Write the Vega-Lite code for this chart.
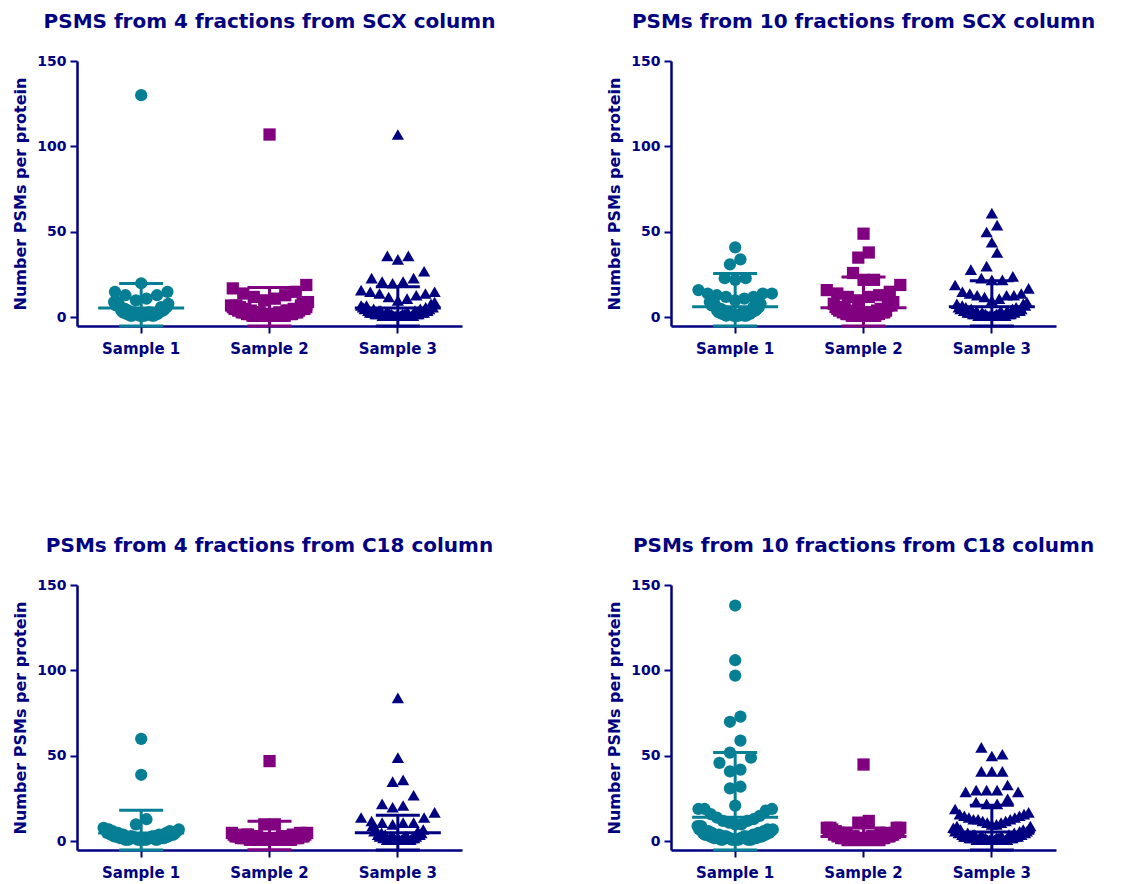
{
"$schema": "https://vega.github.io/schema/vega-lite/v6.json",
"background": "white",
"padding": {"left": 12, "top": 12, "right": 5, "bottom": 5},
"datasets": {"panels": [
{"g":1,"title":"PSMS from 4 fractions from SCX column"},
{"g":2,"title":"PSMs from 10 fractions from SCX column"},
{"g":3,"title":"PSMs from 4 fractions from C18 column"},
{"g":4,"title":"PSMs from 10 fractions from C18 column"}
]},
"data": {"values": [
{"g":1,"s":"Sample 1","mean":5.6,"lo":-8.7,"hi":19.9},
{"g":1,"s":"Sample 2","mean":4.8,"lo":-7.9,"hi":17.5},
{"g":1,"s":"Sample 3","mean":5.6,"lo":-6.7,"hi":17.9},
{"g":2,"s":"Sample 1","mean":6.3,"lo":-13.1,"hi":25.7},
{"g":2,"s":"Sample 2","mean":5.7,"lo":-12.3,"hi":23.7},
{"g":2,"s":"Sample 3","mean":6.3,"lo":-8.8,"hi":21.4},
{"g":3,"s":"Sample 1","mean":4.9,"lo":-8.4,"hi":18.2},
{"g":3,"s":"Sample 2","mean":3.5,"lo":-4.8,"hi":11.8},
{"g":3,"s":"Sample 3","mean":5.1,"lo":-5.1,"hi":15.3},
{"g":4,"s":"Sample 1","mean":14.1,"lo":-23.8,"hi":52},
{"g":4,"s":"Sample 2","mean":2.9,"lo":-2,"hi":7.8},
{"g":4,"s":"Sample 3","mean":5.5,"lo":-10.2,"hi":21.2},

{"g":1,"s":"Sample 1","v":130},{"g":1,"s":"Sample 1","v":20},{"g":1,"s":"Sample 1","v":15},{"g":1,"s":"Sample 1","v":13},{"g":1,"s":"Sample 1","v":11},{"g":1,"s":"Sample 1","v":13},{"g":1,"s":"Sample 1","v":15},{"g":1,"s":"Sample 1","v":9},{"g":1,"s":"Sample 1","v":9},{"g":1,"s":"Sample 1","v":8},{"g":1,"s":"Sample 1","v":10},
{"g":1,"s":"Sample 1","v":1},{"g":1,"s":"Sample 1","v":1},{"g":1,"s":"Sample 1","v":1},{"g":1,"s":"Sample 1","v":1},{"g":1,"s":"Sample 1","v":1},{"g":1,"s":"Sample 1","v":1},{"g":1,"s":"Sample 1","v":1},{"g":1,"s":"Sample 1","v":1},
{"g":1,"s":"Sample 1","v":2},{"g":1,"s":"Sample 1","v":2},{"g":1,"s":"Sample 1","v":2},{"g":1,"s":"Sample 1","v":2},{"g":1,"s":"Sample 1","v":2},{"g":1,"s":"Sample 1","v":2},
{"g":1,"s":"Sample 1","v":3},{"g":1,"s":"Sample 1","v":3},{"g":1,"s":"Sample 1","v":3},{"g":1,"s":"Sample 1","v":3},{"g":1,"s":"Sample 1","v":3},
{"g":1,"s":"Sample 1","v":4},{"g":1,"s":"Sample 1","v":4},{"g":1,"s":"Sample 1","v":4},
{"g":1,"s":"Sample 1","v":5},{"g":1,"s":"Sample 1","v":5},
{"g":1,"s":"Sample 1","v":6},{"g":1,"s":"Sample 1","v":6},
{"g":1,"s":"Sample 1","v":7},{"g":1,"s":"Sample 1","v":7},

{"g":1,"s":"Sample 2","v":107},{"g":1,"s":"Sample 2","v":19},{"g":1,"s":"Sample 2","v":15},{"g":1,"s":"Sample 2","v":13},{"g":1,"s":"Sample 2","v":12},{"g":1,"s":"Sample 2","v":14},{"g":1,"s":"Sample 2","v":17},{"g":1,"s":"Sample 2","v":9},{"g":1,"s":"Sample 2","v":10},{"g":1,"s":"Sample 2","v":11},{"g":1,"s":"Sample 2","v":8},
{"g":1,"s":"Sample 2","v":1},{"g":1,"s":"Sample 2","v":1},{"g":1,"s":"Sample 2","v":1},{"g":1,"s":"Sample 2","v":1},{"g":1,"s":"Sample 2","v":1},{"g":1,"s":"Sample 2","v":1},{"g":1,"s":"Sample 2","v":1},{"g":1,"s":"Sample 2","v":1},{"g":1,"s":"Sample 2","v":1},{"g":1,"s":"Sample 2","v":1},{"g":1,"s":"Sample 2","v":1},
{"g":1,"s":"Sample 2","v":2},{"g":1,"s":"Sample 2","v":2},{"g":1,"s":"Sample 2","v":2},{"g":1,"s":"Sample 2","v":2},{"g":1,"s":"Sample 2","v":2},{"g":1,"s":"Sample 2","v":2},{"g":1,"s":"Sample 2","v":2},{"g":1,"s":"Sample 2","v":2},{"g":1,"s":"Sample 2","v":2},
{"g":1,"s":"Sample 2","v":3},{"g":1,"s":"Sample 2","v":3},{"g":1,"s":"Sample 2","v":3},{"g":1,"s":"Sample 2","v":3},{"g":1,"s":"Sample 2","v":3},{"g":1,"s":"Sample 2","v":3},{"g":1,"s":"Sample 2","v":3},
{"g":1,"s":"Sample 2","v":4},{"g":1,"s":"Sample 2","v":4},{"g":1,"s":"Sample 2","v":4},{"g":1,"s":"Sample 2","v":4},{"g":1,"s":"Sample 2","v":4},
{"g":1,"s":"Sample 2","v":5},{"g":1,"s":"Sample 2","v":5},{"g":1,"s":"Sample 2","v":5},{"g":1,"s":"Sample 2","v":5},
{"g":1,"s":"Sample 2","v":6},{"g":1,"s":"Sample 2","v":6},{"g":1,"s":"Sample 2","v":6},
{"g":1,"s":"Sample 2","v":7},{"g":1,"s":"Sample 2","v":7},{"g":1,"s":"Sample 2","v":7},

{"g":1,"s":"Sample 3","v":107},{"g":1,"s":"Sample 3","v":36},{"g":1,"s":"Sample 3","v":34},{"g":1,"s":"Sample 3","v":36},{"g":1,"s":"Sample 3","v":27},{"g":1,"s":"Sample 3","v":23},{"g":1,"s":"Sample 3","v":21},{"g":1,"s":"Sample 3","v":20},{"g":1,"s":"Sample 3","v":21},{"g":1,"s":"Sample 3","v":23},
{"g":1,"s":"Sample 3","v":16},{"g":1,"s":"Sample 3","v":15},{"g":1,"s":"Sample 3","v":14},{"g":1,"s":"Sample 3","v":13},{"g":1,"s":"Sample 3","v":11},{"g":1,"s":"Sample 3","v":12},{"g":1,"s":"Sample 3","v":14},{"g":1,"s":"Sample 3","v":15},{"g":1,"s":"Sample 3","v":10},{"g":1,"s":"Sample 3","v":9},
{"g":1,"s":"Sample 3","v":1},{"g":1,"s":"Sample 3","v":1},{"g":1,"s":"Sample 3","v":1},{"g":1,"s":"Sample 3","v":1},{"g":1,"s":"Sample 3","v":1},{"g":1,"s":"Sample 3","v":1},{"g":1,"s":"Sample 3","v":1},{"g":1,"s":"Sample 3","v":1},{"g":1,"s":"Sample 3","v":1},{"g":1,"s":"Sample 3","v":1},
{"g":1,"s":"Sample 3","v":2},{"g":1,"s":"Sample 3","v":2},{"g":1,"s":"Sample 3","v":2},{"g":1,"s":"Sample 3","v":2},{"g":1,"s":"Sample 3","v":2},{"g":1,"s":"Sample 3","v":2},{"g":1,"s":"Sample 3","v":2},{"g":1,"s":"Sample 3","v":2},{"g":1,"s":"Sample 3","v":2},
{"g":1,"s":"Sample 3","v":3},{"g":1,"s":"Sample 3","v":3},{"g":1,"s":"Sample 3","v":3},{"g":1,"s":"Sample 3","v":3},{"g":1,"s":"Sample 3","v":3},{"g":1,"s":"Sample 3","v":3},{"g":1,"s":"Sample 3","v":3},
{"g":1,"s":"Sample 3","v":4},{"g":1,"s":"Sample 3","v":4},{"g":1,"s":"Sample 3","v":4},{"g":1,"s":"Sample 3","v":4},{"g":1,"s":"Sample 3","v":4},
{"g":1,"s":"Sample 3","v":5},{"g":1,"s":"Sample 3","v":5},{"g":1,"s":"Sample 3","v":5},{"g":1,"s":"Sample 3","v":5},
{"g":1,"s":"Sample 3","v":6},{"g":1,"s":"Sample 3","v":6},{"g":1,"s":"Sample 3","v":6},
{"g":1,"s":"Sample 3","v":7},{"g":1,"s":"Sample 3","v":7},
{"g":1,"s":"Sample 3","v":8},

{"g":2,"s":"Sample 1","v":41},{"g":2,"s":"Sample 1","v":34},{"g":2,"s":"Sample 1","v":31},{"g":2,"s":"Sample 1","v":23},{"g":2,"s":"Sample 1","v":22},{"g":2,"s":"Sample 1","v":23},{"g":2,"s":"Sample 1","v":16},{"g":2,"s":"Sample 1","v":14},{"g":2,"s":"Sample 1","v":12},
{"g":2,"s":"Sample 1","v":11},{"g":2,"s":"Sample 1","v":12},{"g":2,"s":"Sample 1","v":13},{"g":2,"s":"Sample 1","v":14},{"g":2,"s":"Sample 1","v":14},{"g":2,"s":"Sample 1","v":9},{"g":2,"s":"Sample 1","v":9},{"g":2,"s":"Sample 1","v":10},{"g":2,"s":"Sample 1","v":8},
{"g":2,"s":"Sample 1","v":1},{"g":2,"s":"Sample 1","v":1},{"g":2,"s":"Sample 1","v":1},{"g":2,"s":"Sample 1","v":1},{"g":2,"s":"Sample 1","v":1},{"g":2,"s":"Sample 1","v":1},{"g":2,"s":"Sample 1","v":1},
{"g":2,"s":"Sample 1","v":2},{"g":2,"s":"Sample 1","v":2},{"g":2,"s":"Sample 1","v":2},{"g":2,"s":"Sample 1","v":2},{"g":2,"s":"Sample 1","v":2},{"g":2,"s":"Sample 1","v":2},
{"g":2,"s":"Sample 1","v":3},{"g":2,"s":"Sample 1","v":3},{"g":2,"s":"Sample 1","v":3},{"g":2,"s":"Sample 1","v":3},
{"g":2,"s":"Sample 1","v":4},{"g":2,"s":"Sample 1","v":4},{"g":2,"s":"Sample 1","v":4},
{"g":2,"s":"Sample 1","v":5},{"g":2,"s":"Sample 1","v":5},
{"g":2,"s":"Sample 1","v":6},{"g":2,"s":"Sample 1","v":6},
{"g":2,"s":"Sample 1","v":7},{"g":2,"s":"Sample 1","v":7},

{"g":2,"s":"Sample 2","v":49},{"g":2,"s":"Sample 2","v":38},{"g":2,"s":"Sample 2","v":35},{"g":2,"s":"Sample 2","v":26},{"g":2,"s":"Sample 2","v":22},{"g":2,"s":"Sample 2","v":22},{"g":2,"s":"Sample 2","v":19},{"g":2,"s":"Sample 2","v":15},
{"g":2,"s":"Sample 2","v":13},{"g":2,"s":"Sample 2","v":14},{"g":2,"s":"Sample 2","v":16},{"g":2,"s":"Sample 2","v":12},{"g":2,"s":"Sample 2","v":12},{"g":2,"s":"Sample 2","v":10},{"g":2,"s":"Sample 2","v":9},
{"g":2,"s":"Sample 2","v":1},{"g":2,"s":"Sample 2","v":1},{"g":2,"s":"Sample 2","v":1},{"g":2,"s":"Sample 2","v":1},{"g":2,"s":"Sample 2","v":1},{"g":2,"s":"Sample 2","v":1},{"g":2,"s":"Sample 2","v":1},{"g":2,"s":"Sample 2","v":1},
{"g":2,"s":"Sample 2","v":2},{"g":2,"s":"Sample 2","v":2},{"g":2,"s":"Sample 2","v":2},{"g":2,"s":"Sample 2","v":2},{"g":2,"s":"Sample 2","v":2},{"g":2,"s":"Sample 2","v":2},{"g":2,"s":"Sample 2","v":2},
{"g":2,"s":"Sample 2","v":3},{"g":2,"s":"Sample 2","v":3},{"g":2,"s":"Sample 2","v":3},{"g":2,"s":"Sample 2","v":3},{"g":2,"s":"Sample 2","v":3},
{"g":2,"s":"Sample 2","v":4},{"g":2,"s":"Sample 2","v":4},{"g":2,"s":"Sample 2","v":4},{"g":2,"s":"Sample 2","v":4},
{"g":2,"s":"Sample 2","v":5},{"g":2,"s":"Sample 2","v":5},{"g":2,"s":"Sample 2","v":5},
{"g":2,"s":"Sample 2","v":6},{"g":2,"s":"Sample 2","v":6},
{"g":2,"s":"Sample 2","v":7},{"g":2,"s":"Sample 2","v":7},
{"g":2,"s":"Sample 2","v":8},{"g":2,"s":"Sample 2","v":8},

{"g":2,"s":"Sample 3","v":61},{"g":2,"s":"Sample 3","v":54},{"g":2,"s":"Sample 3","v":50},{"g":2,"s":"Sample 3","v":44},{"g":2,"s":"Sample 3","v":38},{"g":2,"s":"Sample 3","v":28},{"g":2,"s":"Sample 3","v":30},{"g":2,"s":"Sample 3","v":23},
{"g":2,"s":"Sample 3","v":22},{"g":2,"s":"Sample 3","v":22},{"g":2,"s":"Sample 3","v":24},{"g":2,"s":"Sample 3","v":17},{"g":2,"s":"Sample 3","v":19},{"g":2,"s":"Sample 3","v":14},{"g":2,"s":"Sample 3","v":13},{"g":2,"s":"Sample 3","v":13},
{"g":2,"s":"Sample 3","v":12},{"g":2,"s":"Sample 3","v":13},{"g":2,"s":"Sample 3","v":14},{"g":2,"s":"Sample 3","v":15},{"g":2,"s":"Sample 3","v":10},{"g":2,"s":"Sample 3","v":9},{"g":2,"s":"Sample 3","v":11},
{"g":2,"s":"Sample 3","v":1},{"g":2,"s":"Sample 3","v":1},{"g":2,"s":"Sample 3","v":1},{"g":2,"s":"Sample 3","v":1},{"g":2,"s":"Sample 3","v":1},{"g":2,"s":"Sample 3","v":1},{"g":2,"s":"Sample 3","v":1},{"g":2,"s":"Sample 3","v":1},{"g":2,"s":"Sample 3","v":1},
{"g":2,"s":"Sample 3","v":2},{"g":2,"s":"Sample 3","v":2},{"g":2,"s":"Sample 3","v":2},{"g":2,"s":"Sample 3","v":2},{"g":2,"s":"Sample 3","v":2},{"g":2,"s":"Sample 3","v":2},{"g":2,"s":"Sample 3","v":2},{"g":2,"s":"Sample 3","v":2},
{"g":2,"s":"Sample 3","v":3},{"g":2,"s":"Sample 3","v":3},{"g":2,"s":"Sample 3","v":3},{"g":2,"s":"Sample 3","v":3},{"g":2,"s":"Sample 3","v":3},{"g":2,"s":"Sample 3","v":3},
{"g":2,"s":"Sample 3","v":4},{"g":2,"s":"Sample 3","v":4},{"g":2,"s":"Sample 3","v":4},{"g":2,"s":"Sample 3","v":4},{"g":2,"s":"Sample 3","v":4},
{"g":2,"s":"Sample 3","v":5},{"g":2,"s":"Sample 3","v":5},{"g":2,"s":"Sample 3","v":5},{"g":2,"s":"Sample 3","v":5},
{"g":2,"s":"Sample 3","v":6},{"g":2,"s":"Sample 3","v":6},{"g":2,"s":"Sample 3","v":6},
{"g":2,"s":"Sample 3","v":7},{"g":2,"s":"Sample 3","v":7},
{"g":2,"s":"Sample 3","v":8},{"g":2,"s":"Sample 3","v":8},

{"g":3,"s":"Sample 1","v":60},{"g":3,"s":"Sample 1","v":39},{"g":3,"s":"Sample 1","v":13},{"g":3,"s":"Sample 1","v":8},{"g":3,"s":"Sample 1","v":10},
{"g":3,"s":"Sample 1","v":1},{"g":3,"s":"Sample 1","v":1},{"g":3,"s":"Sample 1","v":1},{"g":3,"s":"Sample 1","v":1},{"g":3,"s":"Sample 1","v":1},{"g":3,"s":"Sample 1","v":1},{"g":3,"s":"Sample 1","v":1},{"g":3,"s":"Sample 1","v":1},{"g":3,"s":"Sample 1","v":1},{"g":3,"s":"Sample 1","v":1},{"g":3,"s":"Sample 1","v":1},
{"g":3,"s":"Sample 1","v":2},{"g":3,"s":"Sample 1","v":2},{"g":3,"s":"Sample 1","v":2},{"g":3,"s":"Sample 1","v":2},{"g":3,"s":"Sample 1","v":2},{"g":3,"s":"Sample 1","v":2},{"g":3,"s":"Sample 1","v":2},{"g":3,"s":"Sample 1","v":2},{"g":3,"s":"Sample 1","v":2},
{"g":3,"s":"Sample 1","v":3},{"g":3,"s":"Sample 1","v":3},{"g":3,"s":"Sample 1","v":3},{"g":3,"s":"Sample 1","v":3},{"g":3,"s":"Sample 1","v":3},{"g":3,"s":"Sample 1","v":3},{"g":3,"s":"Sample 1","v":3},
{"g":3,"s":"Sample 1","v":4},{"g":3,"s":"Sample 1","v":4},{"g":3,"s":"Sample 1","v":4},{"g":3,"s":"Sample 1","v":4},{"g":3,"s":"Sample 1","v":4},
{"g":3,"s":"Sample 1","v":5},{"g":3,"s":"Sample 1","v":5},{"g":3,"s":"Sample 1","v":5},{"g":3,"s":"Sample 1","v":5},
{"g":3,"s":"Sample 1","v":6},{"g":3,"s":"Sample 1","v":6},{"g":3,"s":"Sample 1","v":6},
{"g":3,"s":"Sample 1","v":7},{"g":3,"s":"Sample 1","v":7},{"g":3,"s":"Sample 1","v":7},

{"g":3,"s":"Sample 2","v":47},{"g":3,"s":"Sample 2","v":10},{"g":3,"s":"Sample 2","v":10},
{"g":3,"s":"Sample 2","v":1},{"g":3,"s":"Sample 2","v":1},{"g":3,"s":"Sample 2","v":1},{"g":3,"s":"Sample 2","v":1},{"g":3,"s":"Sample 2","v":1},{"g":3,"s":"Sample 2","v":1},{"g":3,"s":"Sample 2","v":1},{"g":3,"s":"Sample 2","v":1},{"g":3,"s":"Sample 2","v":1},{"g":3,"s":"Sample 2","v":1},{"g":3,"s":"Sample 2","v":1},{"g":3,"s":"Sample 2","v":1},{"g":3,"s":"Sample 2","v":1},{"g":3,"s":"Sample 2","v":1},
{"g":3,"s":"Sample 2","v":2},{"g":3,"s":"Sample 2","v":2},{"g":3,"s":"Sample 2","v":2},{"g":3,"s":"Sample 2","v":2},{"g":3,"s":"Sample 2","v":2},{"g":3,"s":"Sample 2","v":2},{"g":3,"s":"Sample 2","v":2},{"g":3,"s":"Sample 2","v":2},{"g":3,"s":"Sample 2","v":2},{"g":3,"s":"Sample 2","v":2},{"g":3,"s":"Sample 2","v":2},{"g":3,"s":"Sample 2","v":2},
{"g":3,"s":"Sample 2","v":3},{"g":3,"s":"Sample 2","v":3},{"g":3,"s":"Sample 2","v":3},{"g":3,"s":"Sample 2","v":3},{"g":3,"s":"Sample 2","v":3},{"g":3,"s":"Sample 2","v":3},{"g":3,"s":"Sample 2","v":3},{"g":3,"s":"Sample 2","v":3},{"g":3,"s":"Sample 2","v":3},
{"g":3,"s":"Sample 2","v":4},{"g":3,"s":"Sample 2","v":4},{"g":3,"s":"Sample 2","v":4},{"g":3,"s":"Sample 2","v":4},{"g":3,"s":"Sample 2","v":4},
{"g":3,"s":"Sample 2","v":5},{"g":3,"s":"Sample 2","v":5},{"g":3,"s":"Sample 2","v":5},

{"g":3,"s":"Sample 3","v":84},{"g":3,"s":"Sample 3","v":49},{"g":3,"s":"Sample 3","v":36},{"g":3,"s":"Sample 3","v":35},{"g":3,"s":"Sample 3","v":27},{"g":3,"s":"Sample 3","v":20},{"g":3,"s":"Sample 3","v":21},{"g":3,"s":"Sample 3","v":22},{"g":3,"s":"Sample 3","v":17},
{"g":3,"s":"Sample 3","v":14},{"g":3,"s":"Sample 3","v":11},{"g":3,"s":"Sample 3","v":11},{"g":3,"s":"Sample 3","v":11},{"g":3,"s":"Sample 3","v":12},{"g":3,"s":"Sample 3","v":14},{"g":3,"s":"Sample 3","v":9},{"g":3,"s":"Sample 3","v":10},
{"g":3,"s":"Sample 3","v":1},{"g":3,"s":"Sample 3","v":1},{"g":3,"s":"Sample 3","v":1},{"g":3,"s":"Sample 3","v":1},{"g":3,"s":"Sample 3","v":1},{"g":3,"s":"Sample 3","v":1},{"g":3,"s":"Sample 3","v":1},{"g":3,"s":"Sample 3","v":1},
{"g":3,"s":"Sample 3","v":2},{"g":3,"s":"Sample 3","v":2},{"g":3,"s":"Sample 3","v":2},{"g":3,"s":"Sample 3","v":2},{"g":3,"s":"Sample 3","v":2},{"g":3,"s":"Sample 3","v":2},
{"g":3,"s":"Sample 3","v":3},{"g":3,"s":"Sample 3","v":3},{"g":3,"s":"Sample 3","v":3},{"g":3,"s":"Sample 3","v":3},{"g":3,"s":"Sample 3","v":3},
{"g":3,"s":"Sample 3","v":4},{"g":3,"s":"Sample 3","v":4},{"g":3,"s":"Sample 3","v":4},
{"g":3,"s":"Sample 3","v":5},{"g":3,"s":"Sample 3","v":5},
{"g":3,"s":"Sample 3","v":6},{"g":3,"s":"Sample 3","v":6},
{"g":3,"s":"Sample 3","v":7},{"g":3,"s":"Sample 3","v":7},

{"g":4,"s":"Sample 1","v":138},{"g":4,"s":"Sample 1","v":106},{"g":4,"s":"Sample 1","v":97},{"g":4,"s":"Sample 1","v":73},{"g":4,"s":"Sample 1","v":70},{"g":4,"s":"Sample 1","v":59},{"g":4,"s":"Sample 1","v":52},{"g":4,"s":"Sample 1","v":49},{"g":4,"s":"Sample 1","v":46},{"g":4,"s":"Sample 1","v":42},
{"g":4,"s":"Sample 1","v":41},{"g":4,"s":"Sample 1","v":31},{"g":4,"s":"Sample 1","v":32},{"g":4,"s":"Sample 1","v":21},{"g":4,"s":"Sample 1","v":19},{"g":4,"s":"Sample 1","v":19},{"g":4,"s":"Sample 1","v":19},{"g":4,"s":"Sample 1","v":18},{"g":4,"s":"Sample 1","v":16},{"g":4,"s":"Sample 1","v":15},
{"g":4,"s":"Sample 1","v":14},{"g":4,"s":"Sample 1","v":13},{"g":4,"s":"Sample 1","v":12},{"g":4,"s":"Sample 1","v":12},{"g":4,"s":"Sample 1","v":11},{"g":4,"s":"Sample 1","v":10},{"g":4,"s":"Sample 1","v":10},{"g":4,"s":"Sample 1","v":9},{"g":4,"s":"Sample 1","v":9},
{"g":4,"s":"Sample 1","v":1},{"g":4,"s":"Sample 1","v":1},{"g":4,"s":"Sample 1","v":1},{"g":4,"s":"Sample 1","v":1},{"g":4,"s":"Sample 1","v":1},{"g":4,"s":"Sample 1","v":1},{"g":4,"s":"Sample 1","v":1},{"g":4,"s":"Sample 1","v":1},{"g":4,"s":"Sample 1","v":1},{"g":4,"s":"Sample 1","v":1},
{"g":4,"s":"Sample 1","v":2},{"g":4,"s":"Sample 1","v":2},{"g":4,"s":"Sample 1","v":2},{"g":4,"s":"Sample 1","v":2},{"g":4,"s":"Sample 1","v":2},{"g":4,"s":"Sample 1","v":2},{"g":4,"s":"Sample 1","v":2},{"g":4,"s":"Sample 1","v":2},{"g":4,"s":"Sample 1","v":2},
{"g":4,"s":"Sample 1","v":3},{"g":4,"s":"Sample 1","v":3},{"g":4,"s":"Sample 1","v":3},{"g":4,"s":"Sample 1","v":3},{"g":4,"s":"Sample 1","v":3},{"g":4,"s":"Sample 1","v":3},{"g":4,"s":"Sample 1","v":3},
{"g":4,"s":"Sample 1","v":4},{"g":4,"s":"Sample 1","v":4},{"g":4,"s":"Sample 1","v":4},{"g":4,"s":"Sample 1","v":4},{"g":4,"s":"Sample 1","v":4},
{"g":4,"s":"Sample 1","v":5},{"g":4,"s":"Sample 1","v":5},{"g":4,"s":"Sample 1","v":5},{"g":4,"s":"Sample 1","v":5},
{"g":4,"s":"Sample 1","v":6},{"g":4,"s":"Sample 1","v":6},{"g":4,"s":"Sample 1","v":6},
{"g":4,"s":"Sample 1","v":7},{"g":4,"s":"Sample 1","v":7},{"g":4,"s":"Sample 1","v":7},

{"g":4,"s":"Sample 2","v":45},{"g":4,"s":"Sample 2","v":12},{"g":4,"s":"Sample 2","v":11},
{"g":4,"s":"Sample 2","v":1},{"g":4,"s":"Sample 2","v":1},{"g":4,"s":"Sample 2","v":1},{"g":4,"s":"Sample 2","v":1},{"g":4,"s":"Sample 2","v":1},{"g":4,"s":"Sample 2","v":1},{"g":4,"s":"Sample 2","v":1},{"g":4,"s":"Sample 2","v":1},{"g":4,"s":"Sample 2","v":1},{"g":4,"s":"Sample 2","v":1},
{"g":4,"s":"Sample 2","v":2},{"g":4,"s":"Sample 2","v":2},{"g":4,"s":"Sample 2","v":2},{"g":4,"s":"Sample 2","v":2},{"g":4,"s":"Sample 2","v":2},{"g":4,"s":"Sample 2","v":2},{"g":4,"s":"Sample 2","v":2},{"g":4,"s":"Sample 2","v":2},{"g":4,"s":"Sample 2","v":2},
{"g":4,"s":"Sample 2","v":3},{"g":4,"s":"Sample 2","v":3},{"g":4,"s":"Sample 2","v":3},{"g":4,"s":"Sample 2","v":3},{"g":4,"s":"Sample 2","v":3},{"g":4,"s":"Sample 2","v":3},{"g":4,"s":"Sample 2","v":3},
{"g":4,"s":"Sample 2","v":4},{"g":4,"s":"Sample 2","v":4},{"g":4,"s":"Sample 2","v":4},{"g":4,"s":"Sample 2","v":4},{"g":4,"s":"Sample 2","v":4},
{"g":4,"s":"Sample 2","v":5},{"g":4,"s":"Sample 2","v":5},{"g":4,"s":"Sample 2","v":5},
{"g":4,"s":"Sample 2","v":6},{"g":4,"s":"Sample 2","v":6},
{"g":4,"s":"Sample 2","v":7},{"g":4,"s":"Sample 2","v":7},
{"g":4,"s":"Sample 2","v":8},{"g":4,"s":"Sample 2","v":8},{"g":4,"s":"Sample 2","v":8},{"g":4,"s":"Sample 2","v":8},

{"g":4,"s":"Sample 3","v":55},{"g":4,"s":"Sample 3","v":50},{"g":4,"s":"Sample 3","v":51},{"g":4,"s":"Sample 3","v":41},{"g":4,"s":"Sample 3","v":41},{"g":4,"s":"Sample 3","v":41},{"g":4,"s":"Sample 3","v":33},{"g":4,"s":"Sample 3","v":30},{"g":4,"s":"Sample 3","v":30},
{"g":4,"s":"Sample 3","v":29},{"g":4,"s":"Sample 3","v":29},{"g":4,"s":"Sample 3","v":30},{"g":4,"s":"Sample 3","v":25},{"g":4,"s":"Sample 3","v":23},{"g":4,"s":"Sample 3","v":22},{"g":4,"s":"Sample 3","v":22},{"g":4,"s":"Sample 3","v":19},{"g":4,"s":"Sample 3","v":16},
{"g":4,"s":"Sample 3","v":15},{"g":4,"s":"Sample 3","v":14},{"g":4,"s":"Sample 3","v":13},{"g":4,"s":"Sample 3","v":13},{"g":4,"s":"Sample 3","v":14},{"g":4,"s":"Sample 3","v":15},{"g":4,"s":"Sample 3","v":16},{"g":4,"s":"Sample 3","v":17},{"g":4,"s":"Sample 3","v":12},
{"g":4,"s":"Sample 3","v":11},{"g":4,"s":"Sample 3","v":11},{"g":4,"s":"Sample 3","v":10},{"g":4,"s":"Sample 3","v":10},{"g":4,"s":"Sample 3","v":9},{"g":4,"s":"Sample 3","v":9},{"g":4,"s":"Sample 3","v":8},{"g":4,"s":"Sample 3","v":12},{"g":4,"s":"Sample 3","v":13},
{"g":4,"s":"Sample 3","v":1},{"g":4,"s":"Sample 3","v":1},{"g":4,"s":"Sample 3","v":1},{"g":4,"s":"Sample 3","v":1},{"g":4,"s":"Sample 3","v":1},{"g":4,"s":"Sample 3","v":1},{"g":4,"s":"Sample 3","v":1},{"g":4,"s":"Sample 3","v":1},{"g":4,"s":"Sample 3","v":1},{"g":4,"s":"Sample 3","v":1},
{"g":4,"s":"Sample 3","v":2},{"g":4,"s":"Sample 3","v":2},{"g":4,"s":"Sample 3","v":2},{"g":4,"s":"Sample 3","v":2},{"g":4,"s":"Sample 3","v":2},{"g":4,"s":"Sample 3","v":2},{"g":4,"s":"Sample 3","v":2},{"g":4,"s":"Sample 3","v":2},{"g":4,"s":"Sample 3","v":2},
{"g":4,"s":"Sample 3","v":3},{"g":4,"s":"Sample 3","v":3},{"g":4,"s":"Sample 3","v":3},{"g":4,"s":"Sample 3","v":3},{"g":4,"s":"Sample 3","v":3},{"g":4,"s":"Sample 3","v":3},{"g":4,"s":"Sample 3","v":3},
{"g":4,"s":"Sample 3","v":4},{"g":4,"s":"Sample 3","v":4},{"g":4,"s":"Sample 3","v":4},{"g":4,"s":"Sample 3","v":4},{"g":4,"s":"Sample 3","v":4},
{"g":4,"s":"Sample 3","v":5},{"g":4,"s":"Sample 3","v":5},{"g":4,"s":"Sample 3","v":5},{"g":4,"s":"Sample 3","v":5},
{"g":4,"s":"Sample 3","v":6},{"g":4,"s":"Sample 3","v":6},{"g":4,"s":"Sample 3","v":6},
{"g":4,"s":"Sample 3","v":7},{"g":4,"s":"Sample 3","v":7},{"g":4,"s":"Sample 3","v":7}
]},
"transform": [{"lookup": "g", "from": {"data": {"name": "panels"}, "key": "g", "fields": ["title"]}}],
"facet": {"field": "title", "type": "nominal", "header": {"title": null}, "sort": ["PSMS from 4 fractions from SCX column", "PSMs from 10 fractions from SCX column", "PSMs from 4 fractions from C18 column", "PSMs from 10 fractions from C18 column"]},
"columns": 2,
"spacing": {"column": 104, "row": 180},
"resolve": {"axis": {"x": "independent", "y": "independent"}},
"spec": {
  "width": 385,
  "height": 265,
  "layer": [
    {
      "transform": [
        {"filter": "isValid(datum.v)"},
        {"bin": {"step": 10, "extent": [0, 160]}, "field": "v", "as": "b"},
        {"joinaggregate": [{"op": "count", "as": "n"}], "groupby": ["g", "s", "b"]},
        {"window": [{"op": "row_number", "as": "i"}], "groupby": ["g", "s", "b"]},
        {"calculate": "datum.v + (datum.b == 0 ? 3 * (datum.i % 2) : 0)", "as": "k"},
        {"window": [{"op": "row_number", "as": "r"}], "sort": [{"field": "k", "order": "ascending"}], "groupby": ["g", "s", "b"]},
        {"calculate": "(datum.r % 2 == 1 ? -(datum.r - 1) / 2 : datum.r / 2) - (datum.n % 2 == 0 ? 0.5 : 0)", "as": "p"},
        {"calculate": "datum.b == 0 ? min(8, datum.n / 6) : 7", "as": "w"},
        {"calculate": "datum.p * min(1, datum.w / max(datum.n - 1, 1))", "as": "off"}
      ],
      "mark": {"type": "point", "filled": true, "opacity": 1, "strokeWidth": 0, "size": 150},
      "encoding": {
        "x": {"field": "s", "type": "nominal", "title": null, "scale": {"domain": ["Sample 1", "Sample 2", "Sample 3"], "paddingInner": 0, "paddingOuter": 0}},
        "xOffset": {"field": "off", "type": "quantitative", "scale": {"domain": [-4, 4], "range": [22.2, 106.2]}},
        "y": {"field": "v", "type": "quantitative", "title": "Number PSMs per protein", "scale": {"domain": [-5, 150], "nice": false, "zero": false, "clamp": true}, "axis": {"values": [0, 50, 100, 150]}},
        "color": {"field": "s", "type": "nominal", "scale": {"domain": ["Sample 1", "Sample 2", "Sample 3"], "range": ["#067E94", "#800080", "#000080"]}, "legend": null},
        "shape": {"field": "s", "type": "nominal", "scale": {"domain": ["Sample 1", "Sample 2", "Sample 3"], "range": ["circle", "square", "triangle-up"]}, "legend": null}
      }
    },
    {
      "transform": [{"filter": "isValid(datum.mean)"}],
      "mark": {"type": "rule", "strokeWidth": 3, "opacity": 1},
      "encoding": {
        "x": {"field": "s", "type": "nominal", "title": null},
        "y": {"field": "lo", "type": "quantitative", "title": "Number PSMs per protein"},
        "y2": {"field": "hi"},
        "color": {"field": "s", "type": "nominal", "legend": null}
      }
    },
    {
      "transform": [{"filter": "isValid(datum.mean)"}],
      "mark": {"type": "tick", "size": 86, "thickness": 3, "opacity": 1},
      "encoding": {
        "x": {"field": "s", "type": "nominal", "title": null},
        "y": {"field": "mean", "type": "quantitative", "title": "Number PSMs per protein"},
        "color": {"field": "s", "type": "nominal", "legend": null}
      }
    },
    {
      "transform": [{"filter": "isValid(datum.mean)"}],
      "mark": {"type": "tick", "size": 44, "thickness": 3, "opacity": 1},
      "encoding": {
        "x": {"field": "s", "type": "nominal", "title": null},
        "y": {"field": "hi", "type": "quantitative", "title": "Number PSMs per protein"},
        "color": {"field": "s", "type": "nominal", "legend": null}
      }
    },
    {
      "transform": [{"filter": "isValid(datum.mean)"}],
      "mark": {"type": "tick", "size": 44, "thickness": 3, "opacity": 1},
      "encoding": {
        "x": {"field": "s", "type": "nominal", "title": null},
        "y": {"field": "lo", "type": "quantitative", "title": "Number PSMs per protein"},
        "color": {"field": "s", "type": "nominal", "legend": null}
      }
    }
  ]
},
"config": {
  "view": {"stroke": null},
  "font": "DejaVu Sans",
  "axis": {"domainColor": "#000080", "domainWidth": 2.5, "tickColor": "#000080", "tickWidth": 2, "tickSize": 7, "labelColor": "#000080", "labelFont": "DejaVu Sans", "labelFontSize": 14, "labelFontWeight": "bold", "titleColor": "#000080", "titleFont": "DejaVu Sans", "titleFontSize": 16, "titleFontWeight": "bold", "grid": false},
  "axisX": {"labelPadding": 8, "labelAngle": 0, "labelFontSize": 15},
  "axisY": {"labelPadding": 4, "titlePadding": 8},
  "header": {"labelFont": "DejaVu Sans", "labelFontSize": 20, "labelFontWeight": "bold", "labelColor": "#000080", "labelPadding": 22}
}
}
